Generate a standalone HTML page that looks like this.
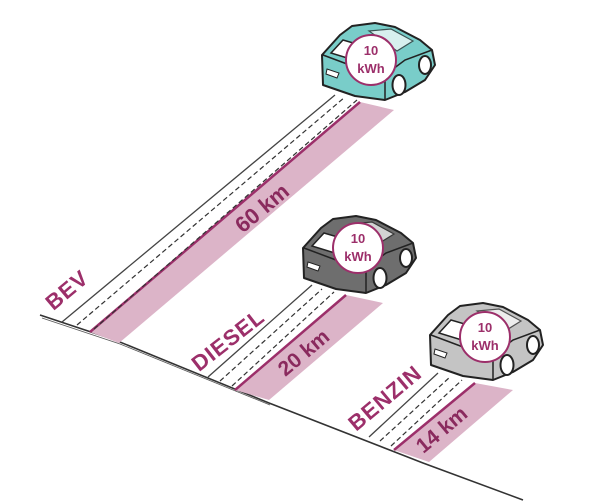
<!DOCTYPE html>
<html><head><style>html,body{margin:0;padding:0;background:#fff}svg{display:block}</style></head>
<body>
<svg width="600" height="504" viewBox="0 0 600 504" xmlns="http://www.w3.org/2000/svg" font-family="'Liberation Sans', sans-serif">
<defs>
<g id="car">
 <path d="M1,30 L19,10 L31,1 L54,-2 L74,2 L99,15 L111,25 L114,40 L104,55 L84,67 L64,75 L34,71 L2,60 Z" stroke="#222" stroke-width="2" stroke-linejoin="round"/>
 <path d="M2,30 L34,42 L64,50 L64,75" fill="none" stroke="#222" stroke-width="1.5"/>
 <path d="M64,50 L84,35 L111,25" fill="none" stroke="#222" stroke-width="1.5"/>
 <path d="M10,28 L22,15 L46,22 L36,36 Z" fill="#fff" stroke="#222" stroke-width="1.5"/>
 <path d="M48,6 L70,4 L92,16 L76,26 Z" fill="#fff" stroke="#222" stroke-width="1.2" opacity="0.7"/>
 <path d="M6,44 L18,48 L16,53 L5,49 Z" fill="#fff" stroke="#222" stroke-width="1"/>
 <ellipse cx="78" cy="60" rx="6.5" ry="10" fill="#fff" stroke="#222" stroke-width="2"/>
 <ellipse cx="104" cy="40" rx="6" ry="9" fill="#fff" stroke="#222" stroke-width="2"/>
</g>
</defs>
<!-- ground -->
<path d="M40,315 L115,340 L269,403 L423,463 L523,500" fill="none" stroke="#333" stroke-width="1.6"/>
<path d="M42,318 L120,344 L270,405" fill="none" stroke="#555" stroke-width="0.8"/>
<!-- BEV road -->
<polygon points="90,332 360,102 394,110 119,343" fill="#dcb4c8"/>
<line x1="90" y1="332" x2="360" y2="102" stroke="#9c2f6a" stroke-width="2.5"/>
<line x1="62" y1="322" x2="335" y2="95" stroke="#444" stroke-width="1.3"/>
<line x1="77" y1="325" x2="345" y2="97" stroke="#333" stroke-width="1.2" stroke-dasharray="5,3"/>
<line x1="94" y1="329" x2="357" y2="100" stroke="#333" stroke-width="1.2" stroke-dasharray="5,3"/>
<!-- DIESEL road -->
<polygon points="235,390 346,295 383,303 269,400" fill="#dcb4c8"/>
<line x1="235" y1="390" x2="346" y2="295" stroke="#9c2f6a" stroke-width="2.5"/>
<line x1="208" y1="377" x2="312" y2="285" stroke="#444" stroke-width="1.3"/>
<line x1="220" y1="381" x2="322" y2="289" stroke="#333" stroke-width="1.2" stroke-dasharray="5,3"/>
<line x1="232" y1="386" x2="334" y2="292" stroke="#333" stroke-width="1.2" stroke-dasharray="5,3"/>
<!-- BENZIN road -->
<polygon points="394,450 475,383 513,390 429,462" fill="#dcb4c8"/>
<line x1="394" y1="450" x2="475" y2="383" stroke="#9c2f6a" stroke-width="2.5"/>
<line x1="369" y1="437" x2="438" y2="373" stroke="#444" stroke-width="1.3"/>
<line x1="380" y1="441" x2="450" y2="377" stroke="#333" stroke-width="1.2" stroke-dasharray="5,3"/>
<line x1="391" y1="446" x2="462" y2="380" stroke="#333" stroke-width="1.2" stroke-dasharray="5,3"/>
<!-- labels -->
<g fill="#9c2f6a" font-weight="bold" text-anchor="middle" dominant-baseline="central">
 <text transform="translate(262,208) rotate(-40)" font-size="22" fill="#8a2a5e">60 km</text>
 <text transform="translate(304,353) rotate(-40)" font-size="21" fill="#8a2a5e">20 km</text>
 <text transform="translate(442,430) rotate(-40)" font-size="21" fill="#8a2a5e">14 km</text>
 <text transform="translate(67,290) rotate(-40)" font-size="22" letter-spacing="1">BEV</text>
 <text transform="translate(228,340) rotate(-38)" font-size="22" letter-spacing="1">DIESEL</text>
 <text transform="translate(385,398) rotate(-40)" font-size="22" letter-spacing="1">BENZIN</text>
</g>
<!-- cars -->
<g transform="translate(321,25)" fill="#79cdc9"><use href="#car"/></g>
<g transform="translate(302,218)" fill="#6e6e6e"><use href="#car"/></g>
<g transform="translate(429,305)" fill="#c4c4c4"><use href="#car"/></g>
<g fill="#fff" stroke="#9c2f6a" stroke-width="2">
 <circle cx="371" cy="60" r="25"/>
 <circle cx="358" cy="248" r="25"/>
 <circle cx="485" cy="337" r="25"/>
</g>
<g fill="#9c2f6a" font-weight="bold" font-size="13" text-anchor="middle">
 <text x="371" y="55">10</text><text x="371" y="73">kWh</text>
 <text x="358" y="243">10</text><text x="358" y="261">kWh</text>
 <text x="485" y="332">10</text><text x="485" y="350">kWh</text>
</g>
</svg>
</body></html>
